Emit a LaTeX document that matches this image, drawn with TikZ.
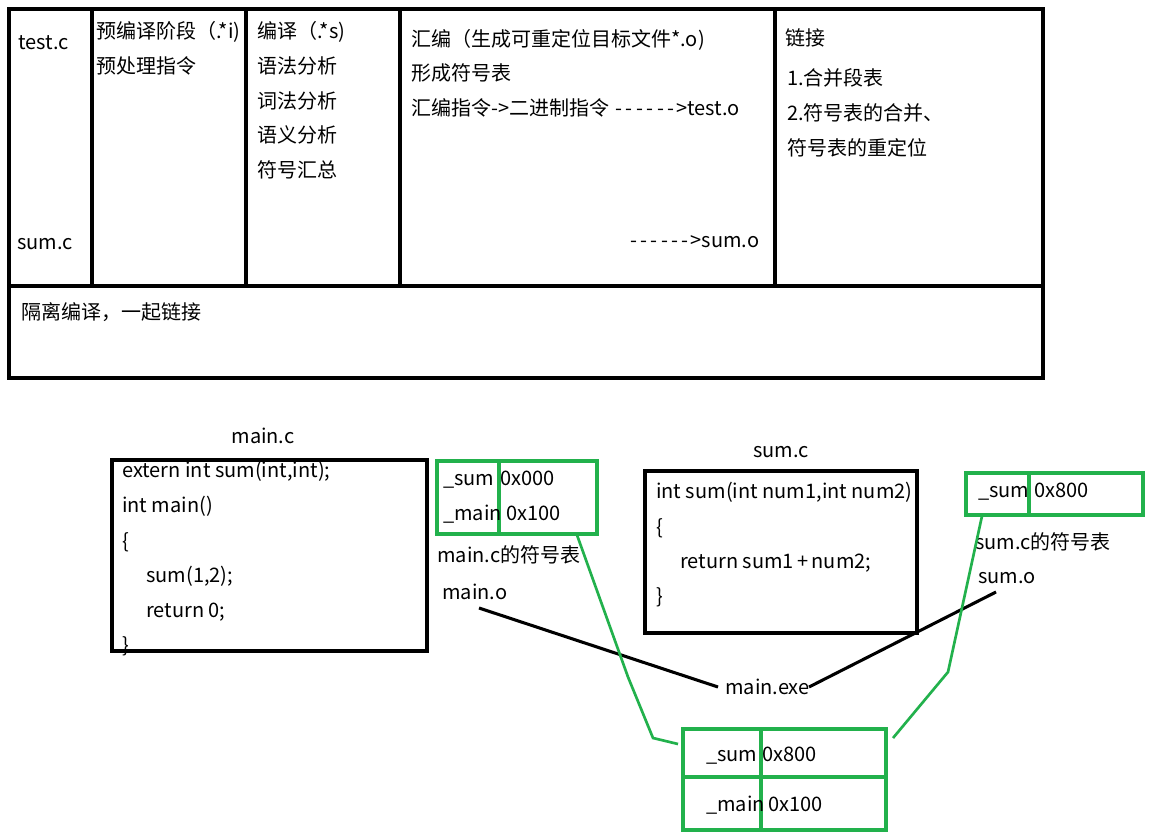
\documentclass[tikz,border=0pt]{standalone}
\usepackage{fontspec}
\setmainfont{Noto Sans CJK SC}[Ligatures=TeXOff]
\definecolor{gr}{HTML}{22B14C}
\newcommand\mydsh{\makebox[7.8pt]{-}}
\newcommand\mydashes{\mydsh\mydsh\mydsh\mydsh\mydsh\mydsh}
\begin{document}
\begin{tikzpicture}[x=0.75pt,y=-0.75pt,
  txt/.style={anchor=west,inner sep=0pt,text height=0.92em,text depth=0.08em,font=\fontsize{15pt}{18pt}\selectfont},
  ctxt/.style={txt,anchor=center},
  blk/.style={draw=black,line width=2.6pt},
  thin/.style={draw=black,line width=2.3pt},
  grn/.style={draw=gr,line width=2.5pt}]
\useasboundingbox (0,0) rectangle (1155,836);
\fill[white] (0,0) rectangle (1155,836);

% ---- top table ----
\draw[blk] (9,9) rectangle (1043,378);
\draw[blk] (9,286) -- (1043,286);
\foreach \x in {92,246,400,775} \draw[blk] (\x,9) -- (\x,286);

\node[txt] (testc) at (18,44) {test.c};
\node[txt] (sumc) at (17,244) {sum.c};
\node[txt] (pre1) at (96,33) {预编译阶段（.*i)};
\node[txt] (pre2) at (96,68) {预处理指令};
\node[txt] (cmp1) at (257,33) {编译（.*s)};
\node[txt] (cmp2) at (257,68) {语法分析};
\node[txt] (cmp3) at (257,103) {词法分析};
\node[txt] (cmp4) at (257,137) {语义分析};
\node[txt] (cmp5) at (257,172) {符号汇总};
\node[txt] (asm1) at (411,41) {汇编（生成可重定位目标文件*.o)};
\node[txt] (asm2) at (411,75) {形成符号表};
\node[txt] (asm3) at (411,110) {汇编指令->二进制指令 \mydashes>test.o};
\node[txt] (asm4) at (628,242) {\mydashes>sum.o};
\node[txt] (lnk1) at (785,40) {链接};
\node[txt] (lnk2) at (787,80) {1.合并段表};
\node[txt] (lnk3) at (787,115) {2.符号表的合并、};
\node[txt] (lnk4) at (787,150) {符号表的重定位};
\node[txt] (iso) at (21,314) {隔离编译，一起链接};

% ---- main.c ----
\node[ctxt] (mainc) at (263,438) {main.c};
\draw[blk] (112,460) rectangle (427,651);
\node[txt] (m1) at (122,472) {extern int sum(int,int);};
\node[txt] (m2) at (122,507) {int main()};
\node[txt] (m3) at (122,543) {\{};
\node[txt] (m4) at (146,577) {sum(1,2);};
\node[txt] (m5) at (146,612) {return 0;};
\node[txt] (m6) at (122,647) {\}};

% main symbol table
\draw[grn] (437,461) rectangle (597,534);
\draw[grn] (499,461) -- (499,534);
\node[txt] (ms1) at (443,480) {\_sum};
\node[txt] (ms2) at (500,480) {0x000};
\node[txt] (ms3) at (443,515) {\_main};
\node[txt] (ms4) at (506,515) {0x100};
\node[txt] (msl) at (437,557) {main.c的符号表};
\node[txt] (mo) at (442,594) {main.o};

% ---- sum.c ----
\node[ctxt] (sumclab) at (781,452) {sum.c};
\draw[blk] (645,471) rectangle (917,633);
\node[txt] (s1) at (656,493) {int sum(int num1,int num2)};
\node[txt] (s2) at (656,529) {\{};
\node[txt] (s3) at (680,563) {return sum1\,+\,num2;};
\node[txt] (s4) at (656,598) {\}};

% sum symbol table
\draw[grn] (966,473) rectangle (1143,515);
\draw[grn] (1029,473) -- (1029,515);
\node[txt] (ss1) at (978,492) {\_sum};
\node[txt] (ss2) at (1034,492) {0x800};
\node[txt] (ssl) at (975,544) {sum.c的符号表};
\node[txt] (so) at (978,578) {sum.o};

% main.exe
\node[txt] (exe) at (725,689) {main.exe};

% merged symbol table
\draw[grn] (683,729) rectangle (886,830);
\draw[grn] (683,777) -- (886,777);
\draw[grn] (761,727) -- (761,830);
\node[txt] (t1) at (706,756) {\_sum};
\node[txt] (t2) at (762,756) {0x800};
\node[txt] (t3) at (706,806) {\_main};
\node[txt] (t4) at (768,806) {0x100};

% black connectors
\coordinate (moend) at (479,608);
\coordinate (exeW) at (718,687);
\coordinate (exeE) at (809,687);
\coordinate (soend) at (996,592);
\draw[thin] (moend) -- (exeW);
\draw[thin] (soend) -- (exeE);

% green connectors
\coordinate (g1a) at (577,535);
\coordinate (g1b) at (628,677);
\coordinate (g1c) at (653,738);
\coordinate (g1d) at (678,744);
\draw[grn,line width=2pt] (g1a) -- (g1b) -- (g1c) -- (g1d);
\coordinate (g2a) at (982,516);
\coordinate (g2b) at (948,672);
\coordinate (g2c) at (893,738);
\draw[grn,line width=2pt] (g2a) -- (g2b) -- (g2c);
\end{tikzpicture}
\end{document}
